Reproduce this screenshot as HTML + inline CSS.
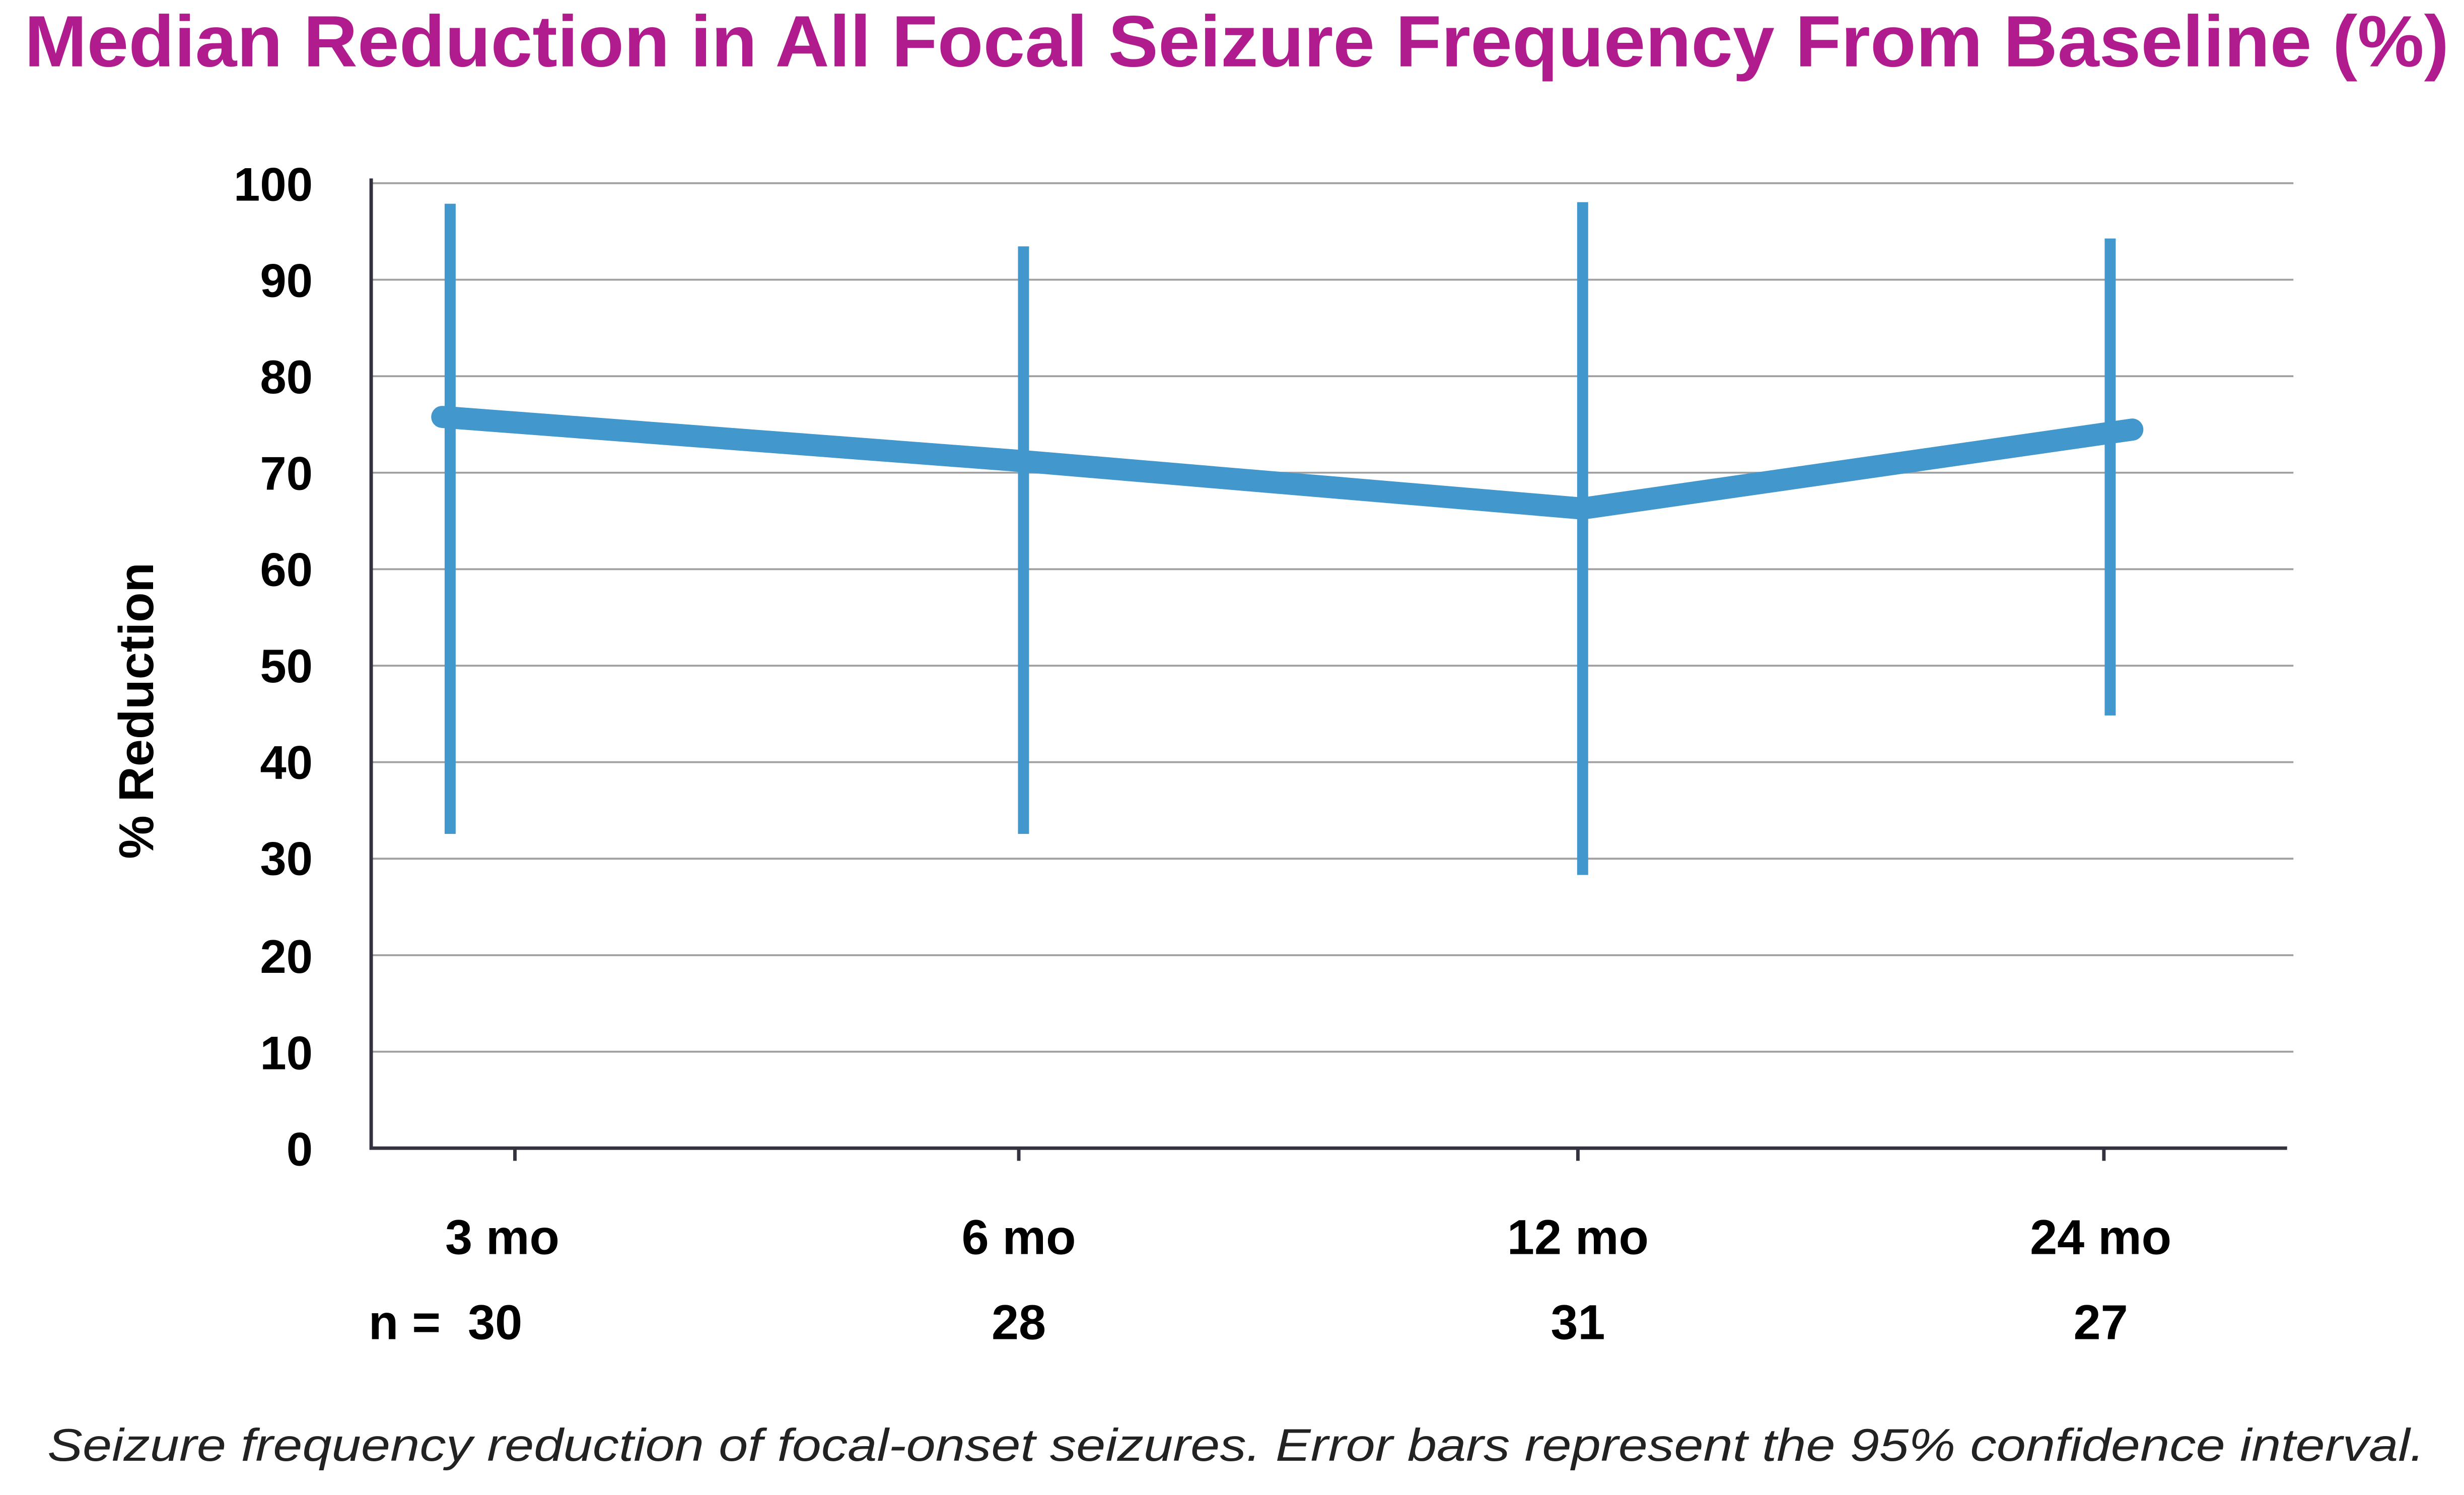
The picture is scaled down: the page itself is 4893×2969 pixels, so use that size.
<!DOCTYPE html>
<html><head><meta charset="utf-8"><style>html,body{margin:0;padding:0;background:#fff}svg{display:block}</style></head>
<body>
<svg width="4893" height="2969" viewBox="0 0 1560 946.6" preserveAspectRatio="none" xmlns="http://www.w3.org/2000/svg" font-family="Liberation Sans, sans-serif">
<rect width="1560" height="946.6" fill="#fff"/>
<text x="783" y="42" text-anchor="middle" font-size="46" font-weight="bold" fill="#b01c8e" textLength="1535" lengthAdjust="spacingAndGlyphs">Median Reduction in All Focal Seizure Frequency From Baseline (%)</text>
<g stroke="#a0a0a0" stroke-width="1.2">
<line x1="235" x2="1452" y1="116" y2="116"/><line x1="235" x2="1452" y1="177.1" y2="177.1"/><line x1="235" x2="1452" y1="238.2" y2="238.2"/><line x1="235" x2="1452" y1="299.3" y2="299.3"/><line x1="235" x2="1452" y1="360.4" y2="360.4"/><line x1="235" x2="1452" y1="421.5" y2="421.5"/><line x1="235" x2="1452" y1="482.6" y2="482.6"/><line x1="235" x2="1452" y1="543.7" y2="543.7"/><line x1="235" x2="1452" y1="604.8" y2="604.8"/><line x1="235" x2="1452" y1="665.9" y2="665.9"/>
</g>
<g stroke="#333340" stroke-width="2.2">
<line x1="235" x2="235" y1="113" y2="728"/><line x1="234" x2="1448" y1="727" y2="727"/>
<line x1="326" x2="326" y1="727" y2="735"/><line x1="645" x2="645" y1="727" y2="735"/><line x1="999" x2="999" y1="727" y2="735"/><line x1="1332" x2="1332" y1="727" y2="735"/>
</g>
<g font-size="30" font-weight="bold" fill="#000" text-anchor="end">
<text x="198" y="127">100</text><text x="198" y="188">90</text><text x="198" y="249">80</text><text x="198" y="310">70</text><text x="198" y="371">60</text><text x="198" y="432">50</text><text x="198" y="493">40</text><text x="198" y="554">30</text><text x="198" y="616">20</text><text x="198" y="677">10</text><text x="198" y="738">0</text>
</g>
<text transform="translate(97,450) rotate(-90)" text-anchor="middle" font-size="31" font-weight="bold" fill="#000">% Reduction</text>
<g stroke="#4297cd" stroke-width="7">
<line x1="285" x2="285" y1="129" y2="528"/><line x1="648" x2="648" y1="156" y2="528"/><line x1="1002" x2="1002" y1="128" y2="554"/><line x1="1336" x2="1336" y1="151" y2="453"/>
</g>
<polyline points="280,264 648,292 1002,322 1350,272" fill="none" stroke="#4297cd" stroke-width="14" stroke-linecap="round" stroke-linejoin="round"/>
<g font-size="31" font-weight="bold" fill="#000" text-anchor="middle">
<text x="318" y="794">3 mo</text><text x="645" y="794">6 mo</text><text x="999" y="794">12 mo</text><text x="1330" y="794">24 mo</text>
<text x="282" y="848" xml:space="preserve">n =  30</text><text x="645" y="848">28</text><text x="999" y="848">31</text><text x="1330" y="848">27</text>
</g>
<text x="30" y="925" font-size="29" font-style="italic" fill="#222" textLength="1505" lengthAdjust="spacingAndGlyphs">Seizure frequency reduction of focal-onset seizures. Error bars represent the 95% confidence interval.</text>
</svg>
</body></html>
